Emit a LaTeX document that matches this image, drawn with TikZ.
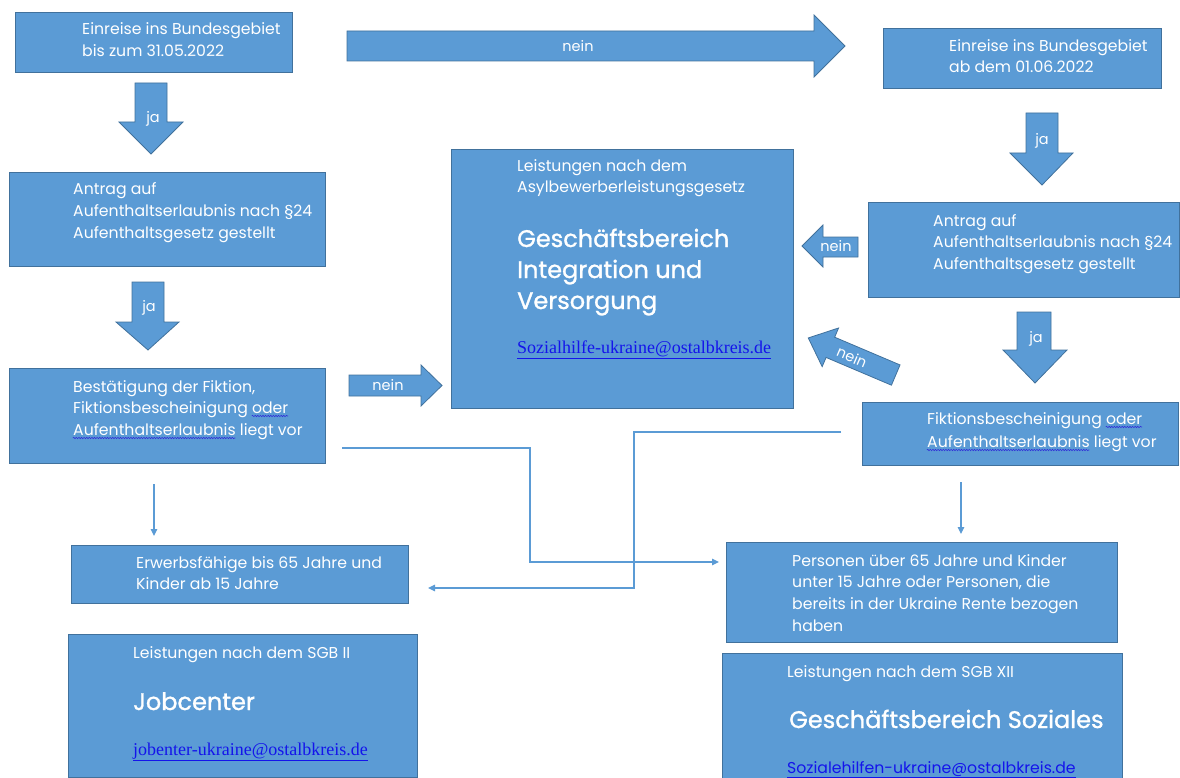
\documentclass[tikz,border=0pt]{standalone}
\usepackage{fontspec}
\setmainfont{Poppins}
\newfontfamily\titlefont[FakeBold=1.2]{Poppins}
\newfontfamily\mailserif{Liberation Serif}
\usetikzlibrary{arrows.meta,decorations.pathmorphing}
\definecolor{boxblue}{HTML}{5B9BD5}
\definecolor{edgeblue}{HTML}{41719C}
\definecolor{linkblue}{RGB}{20,20,235}
\definecolor{squigblue}{RGB}{50,50,215}
\newsavebox\sqbox
\newlength\sqlen
\newcommand\squig[1]{\sbox\sqbox{#1}\setlength\sqlen{\wd\sqbox}\usebox\sqbox\llap{\raisebox{-4pt}{\tikz\draw[squigblue,line width=0.6pt,decorate,decoration={snake,amplitude=0.7pt,segment length=2.6pt}] (0pt,0pt) -- (\sqlen,0pt);}}}
\newcommand\mail[1]{\underline{#1}}
\begin{document}
\begin{tikzpicture}[x=1pt,y=-1pt,
  box/.style={draw=edgeblue,fill=boxblue,line width=1pt,inner sep=0pt,anchor=north west},
  blockarrow/.style={draw=edgeblue,fill=boxblue,line width=0.8pt},
  txt/.style={text=white,inner sep=0pt,anchor=base west,font=\fontsize{15.7}{18}\selectfont},
  title/.style={text=white,inner sep=0pt,anchor=base west,font=\titlefont\fontsize{24}{28}\selectfont},
  smail/.style={text=linkblue,inner sep=0pt,anchor=base west,font=\mailserif\fontsize{18}{20}\selectfont},
  lbl/.style={text=white,inner sep=0pt,anchor=center,font=\fontsize{14.5}{16}\selectfont},
  conn/.style={draw=boxblue,line width=1.1pt,-{Triangle[length=7pt,width=6.5pt]}}]
\useasboundingbox (0,0) rectangle (1180,778);

% ---------- boxes ----------
\node[box,minimum width=277pt,minimum height=60pt] (b1) at (15,12) {};
\node[box,minimum width=316pt,minimum height=94pt] (b2) at (9,172) {};
\node[box,minimum width=316pt,minimum height=95pt] (b3) at (9,368) {};
\node[box,minimum width=342pt,minimum height=259pt] (bc) at (451,149) {};
\node[box,minimum width=278pt,minimum height=60pt] (r1) at (883,28) {};
\node[box,minimum width=311pt,minimum height=95pt] (r2) at (868,202) {};
\node[box,minimum width=316pt,minimum height=63pt] (r3) at (862,402) {};
\node[box,minimum width=337pt,minimum height=58pt] (e1) at (71,545) {};
\node[box,minimum width=349pt,minimum height=143pt] (j1) at (68,634) {};
\node[box,minimum width=391pt,minimum height=100pt] (p1) at (726,542) {};
\node[box,minimum width=400pt,minimum height=135pt] (s1) at (722,653) {};

% ---------- block arrows ----------
\path[blockarrow] (347,31) -- (814,31) -- (814,15) -- (845,46) -- (814,77) -- (814,61) -- (347,61) -- cycle;
\path[blockarrow] (135,83) -- (167,83) -- (167,122) -- (183,122) -- (151,154) -- (119,122) -- (135,122) -- cycle;
\path[blockarrow] (132,282) -- (164,282) -- (164,322) -- (179,322) -- (148,350) -- (116,322) -- (132,322) -- cycle;
\path[blockarrow] (1026,113) -- (1058,113) -- (1058,153) -- (1073,153) -- (1042,185) -- (1010,153) -- (1026,153) -- cycle;
\path[blockarrow] (1017,312) -- (1051,312) -- (1051,350) -- (1067,350) -- (1035,383) -- (1003,350) -- (1017,350) -- cycle;
\path[blockarrow] (349,375) -- (421,375) -- (421,365) -- (442,385.5) -- (421,406) -- (421,396) -- (349,396) -- cycle;
\path[blockarrow] (858,237) -- (823,237) -- (823,225) -- (802,246) -- (823,267) -- (823,257) -- (858,257) -- cycle;
\begin{scope}[shift={(852,356.5)},rotate=157]
\path[blockarrow] (-47.5,-11) -- (23.5,-11) -- (23.5,-21) -- (47.5,0) -- (23.5,21) -- (23.5,11) -- (-47.5,11) -- cycle;
\end{scope}

% ---------- arrow labels ----------
\node[lbl] (l1) at (578,46) {nein};
\node[lbl] (l2) at (153,119) {ja};
\node[lbl] (l3) at (149,308) {ja};
\node[lbl] (l4) at (1042,141) {ja};
\node[lbl] (l5) at (1036,339) {ja};
\node[lbl] (l6) at (388,385) {nein};
\node[lbl] (l7) at (836,246) {nein};
\node[lbl,rotate=-23] (l8) at (852,357) {nein};

% ---------- box texts ----------
\node[txt] (b1a) at (82,35) {Einreise ins Bundesgebiet};
\node[txt] (b1b) at (82,57) {bis zum 31.05.2022};

\node[txt] (b2a) at (73,195) {Antrag auf};
\node[txt] (b2b) at (73,216) {Aufenthaltserlaubnis nach §24};
\node[txt] (b2c) at (73,238) {Aufenthaltsgesetz gestellt};

\node[txt] (b3a) at (73,392) {Bestätigung der Fiktion,};
\node[txt] (b3b) at (73,413) {Fiktionsbescheinigung \squig{oder}};
\node[txt] (b3c) at (73,435) {\squig{Aufenthaltserlaubnis} liegt vor};

\node[txt] (bca) at (517,172) {Leistungen nach dem};
\node[txt] (bcb) at (517,193) {Asylbewerberleistungsgesetz};
\node[title] (bcc) at (517,247) {Geschäftsbereich};
\node[title] (bcd) at (517,278) {Integration und};
\node[title] (bce) at (517,309) {Versorgung};
\node[smail] (bcf) at (517,353) {\mail{Sozialhilfe-ukraine@ostalbkreis.de}};

\node[txt] (r1a) at (949,52) {Einreise ins Bundesgebiet};
\node[txt] (r1b) at (949,73) {ab dem 01.06.2022};

\node[txt] (r2a) at (933,226) {Antrag auf};
\node[txt] (r2b) at (933,247) {Aufenthaltserlaubnis nach §24};
\node[txt] (r2c) at (933,269) {Aufenthaltsgesetz gestellt};

\node[txt] (r3a) at (927,424) {Fiktionsbescheinigung \squig{oder}};
\node[txt] (r3b) at (927,447) {\squig{Aufenthaltserlaubnis} liegt vor};

\node[txt] (e1a) at (136,568) {Erwerbsfähige bis 65 Jahre und};
\node[txt] (e1b) at (136,589) {Kinder ab 15 Jahre};

\node[txt] (j1a) at (133,658) {Leistungen nach dem SGB II};
\node[title] (j1b) at (133,710) {Jobcenter};
\node[smail] (j1c) at (133,755) {\mail{jobenter-ukraine@ostalbkreis.de}};

\node[txt] (p1a) at (792,566) {Personen über 65 Jahre und Kinder};
\node[txt] (p1b) at (792,587) {unter 15 Jahre oder Personen, die};
\node[txt] (p1c) at (792,609) {bereits in der Ukraine Rente bezogen};
\node[txt] (p1d) at (792,631) {haben};

\node[txt] (s1a) at (787,677) {Leistungen nach dem SGB XII};
\node[title] (s1b) at (789,728) {Geschäftsbereich Soziales};
\node[txt,text=linkblue] (s1c) at (787,773) {\mail{Sozialehilfen-ukraine@ostalbkreis.de}};

% ---------- thin connectors ----------
\coordinate (v1s) at (154,484);
\coordinate (v1e) at (154,536);
\coordinate (v2s) at (961,482);
\coordinate (v2e) at (961,534);
\coordinate (a0) at (342,448);
\coordinate (aturn) at (530,562);
\coordinate (a1) at (719,562);
\coordinate (c0) at (841,432);
\coordinate (cturn) at (634,588);
\coordinate (c1) at (428,588);
\draw[conn] (v1s) -- (v1e);
\draw[conn] (v2s) -- (v2e);
\draw[conn] (a0) -| (aturn) -- (a1);
\draw[conn] (c0) -| (cturn) -- (c1);
\end{tikzpicture}
\end{document}
